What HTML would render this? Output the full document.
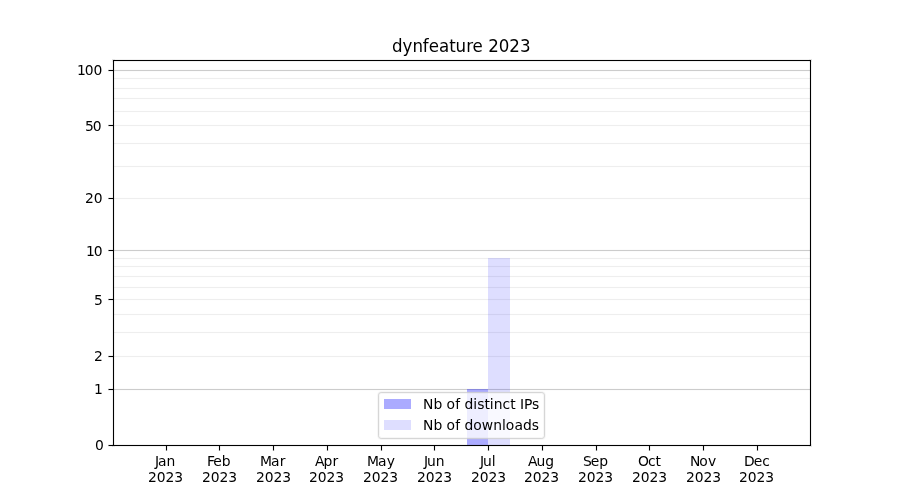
<!DOCTYPE html>
<html lang="en"><head><meta charset="utf-8"><title>dynfeature 2023</title>
<style>
html,body{margin:0;padding:0;background:#fff;}
body{width:900px;height:500px;overflow:hidden;}
svg{display:block;will-change:transform;}
text{font-family:"DejaVu Sans", "Liberation Sans", sans-serif;fill:#000;font-size:13.889px;}
text.title{font-size:16.667px;}
.crisp{shape-rendering:crispEdges;}
</style></head><body>
<svg width="900" height="500" viewBox="0 0 900 500">
<rect x="0" y="0" width="900" height="500" fill="#ffffff"/>
<g class="crisp">
<!-- horizontal grid lines -->
<rect x="113" y="69" width="698" height="3" fill="#000" fill-opacity="0.012"/>
<rect x="113" y="70" width="698" height="1" fill="#cccccc"/>
<rect x="113" y="249" width="698" height="3" fill="#000" fill-opacity="0.012"/>
<rect x="113" y="250" width="698" height="1" fill="#cccccc"/>
<rect x="113" y="388" width="698" height="3" fill="#000" fill-opacity="0.012"/>
<rect x="113" y="389" width="698" height="1" fill="#cccccc"/>
<rect x="113" y="77" width="698" height="3" fill="#000" fill-opacity="0.004"/>
<rect x="113" y="78" width="698" height="1" fill="#eeeeee"/>
<rect x="113" y="87" width="698" height="3" fill="#000" fill-opacity="0.004"/>
<rect x="113" y="88" width="698" height="1" fill="#eeeeee"/>
<rect x="113" y="97" width="698" height="3" fill="#000" fill-opacity="0.004"/>
<rect x="113" y="98" width="698" height="1" fill="#eeeeee"/>
<rect x="113" y="110" width="698" height="3" fill="#000" fill-opacity="0.004"/>
<rect x="113" y="111" width="698" height="1" fill="#eeeeee"/>
<rect x="113" y="124" width="698" height="3" fill="#000" fill-opacity="0.004"/>
<rect x="113" y="125" width="698" height="1" fill="#eeeeee"/>
<rect x="113" y="142" width="698" height="3" fill="#000" fill-opacity="0.004"/>
<rect x="113" y="143" width="698" height="1" fill="#eeeeee"/>
<rect x="113" y="165" width="698" height="3" fill="#000" fill-opacity="0.004"/>
<rect x="113" y="166" width="698" height="1" fill="#eeeeee"/>
<rect x="113" y="197" width="698" height="3" fill="#000" fill-opacity="0.004"/>
<rect x="113" y="198" width="698" height="1" fill="#eeeeee"/>
<rect x="113" y="257" width="698" height="3" fill="#000" fill-opacity="0.004"/>
<rect x="113" y="258" width="698" height="1" fill="#eeeeee"/>
<rect x="113" y="265" width="698" height="3" fill="#000" fill-opacity="0.004"/>
<rect x="113" y="266" width="698" height="1" fill="#eeeeee"/>
<rect x="113" y="275" width="698" height="3" fill="#000" fill-opacity="0.004"/>
<rect x="113" y="276" width="698" height="1" fill="#eeeeee"/>
<rect x="113" y="286" width="698" height="3" fill="#000" fill-opacity="0.004"/>
<rect x="113" y="287" width="698" height="1" fill="#eeeeee"/>
<rect x="113" y="298" width="698" height="3" fill="#000" fill-opacity="0.004"/>
<rect x="113" y="299" width="698" height="1" fill="#eeeeee"/>
<rect x="113" y="313" width="698" height="3" fill="#000" fill-opacity="0.004"/>
<rect x="113" y="314" width="698" height="1" fill="#eeeeee"/>
<rect x="113" y="331" width="698" height="3" fill="#000" fill-opacity="0.004"/>
<rect x="113" y="332" width="698" height="1" fill="#eeeeee"/>
<rect x="113" y="355" width="698" height="3" fill="#000" fill-opacity="0.004"/>
<rect x="113" y="356" width="698" height="1" fill="#eeeeee"/>
<!-- bars -->
<rect x="467" y="389" width="21" height="56" fill="#0000ff" fill-opacity="0.33"/>
<rect x="488" y="258" width="22" height="187" fill="#0000ff" fill-opacity="0.13"/>
<!-- axes frame and ticks -->
<rect x="112" y="59" width="700" height="3" fill="#000" fill-opacity="0.055"/>
<rect x="112" y="444" width="700" height="3" fill="#000" fill-opacity="0.055"/>
<rect x="112" y="59" width="3" height="388" fill="#000" fill-opacity="0.055"/>
<rect x="809" y="59" width="3" height="388" fill="#000" fill-opacity="0.055"/>
<rect x="108" y="444" width="5" height="3" fill="#000" fill-opacity="0.055"/>
<rect x="108" y="388" width="5" height="3" fill="#000" fill-opacity="0.055"/>
<rect x="108" y="355" width="5" height="3" fill="#000" fill-opacity="0.055"/>
<rect x="108" y="298" width="5" height="3" fill="#000" fill-opacity="0.055"/>
<rect x="108" y="249" width="5" height="3" fill="#000" fill-opacity="0.055"/>
<rect x="108" y="197" width="5" height="3" fill="#000" fill-opacity="0.055"/>
<rect x="108" y="124" width="5" height="3" fill="#000" fill-opacity="0.055"/>
<rect x="108" y="69" width="5" height="3" fill="#000" fill-opacity="0.055"/>
<rect x="165" y="446" width="3" height="5" fill="#000" fill-opacity="0.055"/>
<rect x="218" y="446" width="3" height="5" fill="#000" fill-opacity="0.055"/>
<rect x="272" y="446" width="3" height="5" fill="#000" fill-opacity="0.055"/>
<rect x="326" y="446" width="3" height="5" fill="#000" fill-opacity="0.055"/>
<rect x="380" y="446" width="3" height="5" fill="#000" fill-opacity="0.055"/>
<rect x="433" y="446" width="3" height="5" fill="#000" fill-opacity="0.055"/>
<rect x="487" y="446" width="3" height="5" fill="#000" fill-opacity="0.055"/>
<rect x="541" y="446" width="3" height="5" fill="#000" fill-opacity="0.055"/>
<rect x="595" y="446" width="3" height="5" fill="#000" fill-opacity="0.055"/>
<rect x="648" y="446" width="3" height="5" fill="#000" fill-opacity="0.055"/>
<rect x="702" y="446" width="3" height="5" fill="#000" fill-opacity="0.055"/>
<rect x="756" y="446" width="3" height="5" fill="#000" fill-opacity="0.055"/>
<rect x="113" y="60" width="698" height="1" fill="#000"/>
<rect x="113" y="445" width="698" height="1" fill="#000"/>
<rect x="113" y="60" width="1" height="386" fill="#000"/>
<rect x="810" y="60" width="1" height="386" fill="#000"/>
<rect x="109" y="445" width="4" height="1" fill="#000"/>
<rect x="108" y="445" width="1" height="1" fill="#7f7f7f"/>
<rect x="109" y="389" width="4" height="1" fill="#000"/>
<rect x="108" y="389" width="1" height="1" fill="#7f7f7f"/>
<rect x="109" y="356" width="4" height="1" fill="#000"/>
<rect x="108" y="356" width="1" height="1" fill="#7f7f7f"/>
<rect x="109" y="299" width="4" height="1" fill="#000"/>
<rect x="108" y="299" width="1" height="1" fill="#7f7f7f"/>
<rect x="109" y="250" width="4" height="1" fill="#000"/>
<rect x="108" y="250" width="1" height="1" fill="#7f7f7f"/>
<rect x="109" y="198" width="4" height="1" fill="#000"/>
<rect x="108" y="198" width="1" height="1" fill="#7f7f7f"/>
<rect x="109" y="125" width="4" height="1" fill="#000"/>
<rect x="108" y="125" width="1" height="1" fill="#7f7f7f"/>
<rect x="109" y="70" width="4" height="1" fill="#000"/>
<rect x="108" y="70" width="1" height="1" fill="#7f7f7f"/>
<rect x="166" y="446" width="1" height="4" fill="#000"/>
<rect x="166" y="450" width="1" height="1" fill="#7f7f7f"/>
<rect x="219" y="446" width="1" height="4" fill="#000"/>
<rect x="219" y="450" width="1" height="1" fill="#7f7f7f"/>
<rect x="273" y="446" width="1" height="4" fill="#000"/>
<rect x="273" y="450" width="1" height="1" fill="#7f7f7f"/>
<rect x="327" y="446" width="1" height="4" fill="#000"/>
<rect x="327" y="450" width="1" height="1" fill="#7f7f7f"/>
<rect x="381" y="446" width="1" height="4" fill="#000"/>
<rect x="381" y="450" width="1" height="1" fill="#7f7f7f"/>
<rect x="434" y="446" width="1" height="4" fill="#000"/>
<rect x="434" y="450" width="1" height="1" fill="#7f7f7f"/>
<rect x="488" y="446" width="1" height="4" fill="#000"/>
<rect x="488" y="450" width="1" height="1" fill="#7f7f7f"/>
<rect x="542" y="446" width="1" height="4" fill="#000"/>
<rect x="542" y="450" width="1" height="1" fill="#7f7f7f"/>
<rect x="596" y="446" width="1" height="4" fill="#000"/>
<rect x="596" y="450" width="1" height="1" fill="#7f7f7f"/>
<rect x="649" y="446" width="1" height="4" fill="#000"/>
<rect x="649" y="450" width="1" height="1" fill="#7f7f7f"/>
<rect x="703" y="446" width="1" height="4" fill="#000"/>
<rect x="703" y="450" width="1" height="1" fill="#7f7f7f"/>
<rect x="757" y="446" width="1" height="4" fill="#000"/>
<rect x="757" y="450" width="1" height="1" fill="#7f7f7f"/>
</g>
<!-- legend -->
<rect x="378.5" y="392.5" width="166" height="46" rx="2.6" ry="2.6" fill="#ffffff" fill-opacity="0.8"/>
<rect x="377.5" y="391.5" width="168" height="48" rx="3.6" ry="3.6" fill="none" stroke="#cccccc" stroke-opacity="0.157" stroke-width="1"/>
<rect x="379.5" y="393.5" width="164" height="44" rx="1.6" ry="1.6" fill="none" stroke="#cccccc" stroke-opacity="0.157" stroke-width="1"/>
<rect x="378.5" y="392.5" width="166" height="46" rx="2.6" ry="2.6" fill="none" stroke="#cccccc" stroke-opacity="0.8" stroke-width="1"/>
<rect class="crisp" x="384" y="399" width="27" height="10" fill="#0000ff" fill-opacity="0.33"/>
<rect class="crisp" x="384" y="420" width="27" height="10" fill="#0000ff" fill-opacity="0.13"/>
<!-- labels -->
<text x="154.875 157.875 166.5" y="466">Jan</text>
<text x="147.938 156.688 165.438 174.188" y="482">2023</text>
<text x="206.938 213.188 221.688" y="466">Feb</text>
<text x="201.938 210.688 219.438 228.188" y="482">2023</text>
<text x="259.875 271 279.75" y="466">Mar</text>
<text x="255.938 264.688 273.438 282.188" y="482">2023</text>
<text x="315 323.5 332.5" y="466">Apr</text>
<text x="308.938 317.688 326.438 335.188" y="482">2023</text>
<text x="366.875 378 386.75" y="466">May</text>
<text x="362.938 371.688 380.438 389.188" y="482">2023</text>
<text x="423.938 426.938 435.688" y="466">Jun</text>
<text x="416.938 425.688 434.438 443.188" y="482">2023</text>
<text x="479.938 482.938 491.688" y="466">Jul</text>
<text x="470.938 479.688 488.438 497.188" y="482">2023</text>
<text x="527.938 536.438 545.188" y="466">Aug</text>
<text x="523.938 532.688 541.438 550.188" y="482">2023</text>
<text x="582.938 590.688 599.188" y="466">Sep</text>
<text x="577.938 586.688 595.438 604.188" y="482">2023</text>
<text x="638 648 655.5" y="466">Oct</text>
<text x="631.938 640.688 649.438 658.188" y="482">2023</text>
<text x="690 699.25 708" y="466">Nov</text>
<text x="685.938 694.688 703.438 712.188" y="482">2023</text>
<text x="744 753.75 762.25" y="466">Dec</text>
<text x="738.938 747.688 756.438 765.188" y="482">2023</text>
<text x="94.938" y="450">0</text>
<text x="93.938" y="394">1</text>
<text x="93.938" y="361">2</text>
<text x="93.938" y="305">5</text>
<text x="86 93.75" y="256">10</text>
<text x="84.938 93.688" y="203">20</text>
<text x="84.938 92.688" y="131">50</text>
<text x="76.875 84.75 93.5" y="75">100</text>
<text x="423 433.375 442.25 446.5 455.125 460.125 464.5 473.25 477.25 484.375 489.75 493.75 502.5 510.125 515.625 520 524 532" y="409">Nb of distinct IPs</text>
<text x="423 433.375 442.25 446.5 455.125 460.125 464.5 473.25 481.75 493.25 502 505.75 514.375 523 531.75" y="430">Nb of downloads</text>
<text class="title" transform="translate(0 52) scale(1 1.08)" x="392.125 402.625 412.5 422.875 428.875 439.125 449.25 455.625 466.25 472.625 483 488.25 498.875 509.375 520" y="0">dynfeature 2023</text>
</svg>
</body></html>
